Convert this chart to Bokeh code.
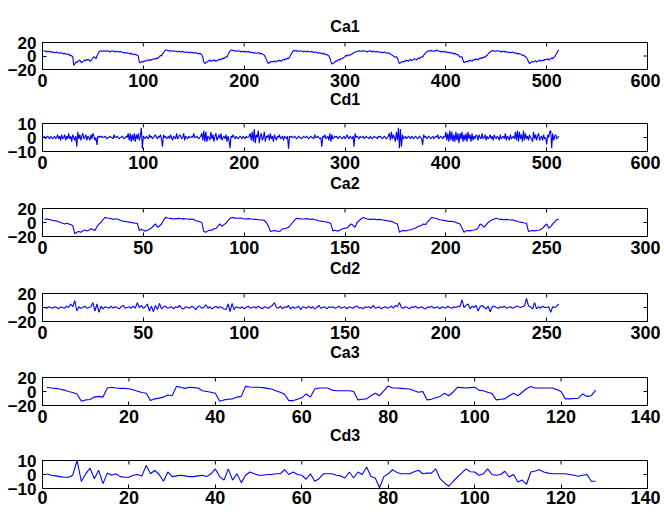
import math
from bokeh.plotting import figure
from bokeh.layouts import column
from bokeh.models import Range1d, FixedTicker
from bokeh.embed import file_html
from bokeh.resources import INLINE

titles = ["Ca1", "Cd1", "Ca2", "Cd2", "Ca3", "Cd3"]

x_ticks_1 = [0, 100, 200, 300, 400, 500, 600]
x_ticks_2 = [0, 50, 100, 150, 200, 250, 300]
x_ticks_3 = [0, 20, 40, 60, 80, 100, 120, 140]
y_ticks_a = [-20, 0, 20]
y_ticks_d = [-10, 0, 10]

ca1 = [7, 8, 7, 6, 7, 7, 6, 7, 6, 5, 6, 5, 5, 6, 5, 4, 5, 4, 5, 4, 3, 4, 3, 3,
       2, 3, 1, 1, 0, -1, -14,
       -12, -9, -10, -8, -7, -6, -9, -10, -8, -7, -6, -7, -5, -6, -5, -8, -7, -5, -3, -1, -2,
       -4, 0, 3, 6, 7,
       8, 7, 7, 8, 7, 7, 8, 7, 7, 6, 7, 8, 7, 7, 6, 7, 7, 6, 6, 7, 6, 6, 5,
       5, 5, 4, 5, 4, 4, 3, 4, 3, 2, 3, 2, 2, 1, 0, -9,
       -10, -9, -8, -9, -7, -8, -7, -6, -6, -7, -5, -6, -5, -4, -5, -4, -3, -4, -2, -1,
       1, 0, 3, 5, 7, 9, 9,
       8, 8, 7, 8, 7, 7, 8, 7, 7, 7, 6, 7, 7, 6, 6, 7, 6, 6, 5, 6, 6, 5, 5, 6, 5, 5, 4, 5, 5, 4, 4, 3, 4, 3, 2,
       -2, -9, -11, -10,
       -9, -8, -7, -6, -8, -7, -6, -7, -6, -8, -7, -6, -5, -6, -4, -5, -3, -4, -2, -1,
       -2, 2, 5, 7, 9, 9,
       8, 8, 7, 8, 7, 7, 8, 7, 6, 7, 7, 6, 7, 6, 6, 7, 6, 5, 6, 5, 5, 4, 5, 4, 4, 5, 4, 3, 4, 3, 2, 1,
       -2, -5, -8,
       -11, -10, -9, -8, -9, -8, -7, -9, -8, -7, -8, -6, -7, -8, -6, -5, -6, -4, -5, -3,
       -4, -2, 1, 4, 6, 8, 8,
       8, 7, 8, 7, 7, 8, 7, 7, 6, 7, 7, 6, 7, 7, 6, 6, 7, 6, 5, 6, 6, 5, 5, 4, 5, 4, 4, 3, 4, 3, 2, 2, 1, 0,
       -3, -8, -12, -11, -10,
       -9, -7, -8, -6, -5, -6, -4, -4, -3, -2, -1,
       1, 0, 1, 2, 1, 2, 3, 4, 5, 6, 6, 7, 7,
       8, 7, 7, 8, 7, 8, 7, 7, 6, 7, 7, 8, 7, 6, 7, 7, 6, 6, 7, 6, 6, 5, 6, 5, 5, 6, 5, 4, 5, 4, 4,
       3, 2, 1, 0, -1, -2, -1, -3,
       -8, -11,
       -10, -9, -8, -9, -7, -8, -6, -7, -8, -6, -5, -7, -6, -5, -4, -5, -6, -4, -3, -4, -2, -1,
       -2, 1, 3, 5, 6, 7,
       8, 7, 8, 8, 7, 7, 8, 7, 9, 8, 7, 7, 6, 7, 6, 6, 7, 6, 5, 6, 5, 5, 4, 5, 4, 3, 4, 3, 2, 2,
       0, -1, -2, -1, -6, -10,
       -9, -8, -9, -7, -8, -6, -7, -8, -6, -5, -6, -4, -5, -6, -4, -3, -4, -2, -3, -1, -2, 0,
       1, 3, 5, 6, 7, 8,
       8, 7, 7, 8, 7, 8, 7, 7, 6, 7, 7, 6, 7, 6, 6, 5, 6, 5, 5, 6, 5, 4, 5, 4, 3, 4, 3, 3, 2, 1, 1, 0, -1, -2,
       -5, -9, -11,
       -10, -9, -8, -9, -8, -7, -9, -8, -7, -6, -8, -7, -6, -7, -5, -6, -5, -4, -6, -5, -4,
       -3, -4, -2, -1, 2, 4, 7, 9]

cd1 = [0, 1, -1, 0, 1, 0, -1, 1, 0, -1, 0, 1, -1, 0, 2, -1,
       1, -2, 2, -1, 0, 2, -2, 1, -1,
       3, -1, 1, -3, 2, 0, -2, 1,
       -6.5,
       4, -1, 2, -2, 1, 3, -1, 0, 2, -2, 1, 0, -2, 2, -1, 3,
       1, -2, 0,
       -5.3,
       1, 0, 1, 0, 1, 0, 0, 1, 0, -1, 0, 0, 1, 0, 0, -1, 2, 0, 0, 1, 0, -1, 0, 0, 1, 0, -1, 0, 1, 0,
       3, -2, 3, -3, 2, -2, 3, -3, 2, -1, 3, -2, 1, 7,
       -8,
       1, 0, -1, 1, 0, -1, 2, 0, 1, -1, 0, 1, 2, 0, -1, 1, 0, 2, -1,
       -6.5,
       2, 0, 1, -1, 0, 1, -1, 2, 0, -2, 1, 0, -1, 3, -1, 0, 2, 1, -1, 0, 3, -2, 1, 0, -1, 1, 0,
       0, 1, 0, 3, 0, 0, 1, 0, -1, 0, 1,
       3, -2, 5, -3, 4, -3, 1, 0, -2, 4, -1, 2, -3, 1, 3, -2, 0, 2, -1, 3, -2, 0, 1, -1, 2, -3, 1, -2, -7.6, 1, 0, 2,
       0, -1, 1, 0, -1, 0, 1, 0, -1, 1, 0, -1, 1, 0, 0, 1,
       3, -2, 4, -3, 6, -4, 2, 0, 5, -4, 1, 3, -2, 0, 4, -3, 1, 0, 2,
       -2, 3, -1, 1, -3, 2, 0, -2, 1, 0, 2, -1, 0, 1, -2, 1, 0, -1, 1,
       -8,
       1, 0, 1, 0, 0, 1, 0, -1, 0, 1, 0, 0, -1, 0, 1, 0, 0, 1, 0, -1, 0, 1, 0, 0, -1, 2, 0, 0, 1, 0, -1, 0,
       -6.5,
       1, 0, 2, -1, 0, 1, -2, 3, -3, 2, -1, 0, 1, 0, 1, -1, 0, 1, 0, -1,
       0, 1, -1, 0, 2, 0, -1, 1, 0, -1, 1,
       -6.5,
       3, 0, 1, 0, -1, 1, 0, 0, 1, -1, 0, 1, 0, 0, -1, 1, 0, -1, 0, 1, 0, 0, -1, 1, 0, 1, 0, -1, 0, 1, 0, -1, 0, 1,
       3, -2, 4, -1, 2, 0, -3, 4, -2, 7, -7.6, 6, -6.5, 2, -1,
       0, 1, -1, 0, 1, 0, -1, 1, 0, -1, 0, 1, 0, -1, 0, 1, 0, -1,
       -5.3,
       2, 0, 1, -1, 0, 1, 0, -1, 0, 1, -1, 0, 1, 0, 2, -1, 0, 1, 0, -1, 1, 0,
       4, -2, 3, -3, 5, -2, 4, -3, 2, -3, 4, -2, 3, -4, 3, -1, 4, -3, 2, -2, 3, -3, 4, -1, 2, -3, 3, -2, 1, -1, 2,
       1, -2, 2, 0, -1, 3, -1, 0, 2, -2, 1, -1, 0, 2, -1, 1, -2, 2, 0, -1, 1, 0, -2, 2, -1, 0, 1, -1, 3, -2,
       1, 0, -2, 2, -1, 0, 1, -1,
       4, -2, 5, -3, 4, -1, 2, -3, 5, -2, 3, -1, 1, -2, 2, 0, -1,
       -3, 4, -1, 2, -2, 1, 3, -2, 0, 1, -2, 2, -1, 0, -5, 2, 0, 4, 5, -7.6, 3, -2, 1, 2, -1, 0, 1]

ca2 = [4.5, 5, 4.5, 4, 3, 2.6, 2, 1,
       0, -1, -2, -1, -2, -3,
       -4.5, -16, -14, -13, -14, -12, -10.6, -12, -11, -9,
       -10, -11.5, -6, -2, 0, 4, 7.3, 6.5, 6, 5.5,
       4.5, 5, 5, 4, 2.6, 2, 1.5, 1, 0.5, 0,
       -0.5, -1, -1, -11.5, -9.6, -11, -12.5, -11, -9.6, -8,
       -5, -2, -6.8, -5, -2, 3, 7.3, 6.5, 6,
       5.5, 5, 5.5, 5.5, 6, 5, 5.5, 5, 5, 4.5, 5, 4.5,
       2.6, 2, 1, 0, -13, -14, -12, -10.6, -11, -9, -9, -5, -2, -5.4, -3, -1, 3, 6, 7.3, 6.3,
       6.3, 6, 6.3, 6,
       5, 5, 5.5, 5, 5, 4.5, 4.5, 4, 3.5,
       3.5, 3, 0, -5, -13, -12, -11.5, -12, -13, -12, -9, -9, -8, -6.8, -4, 0, 3.5, 6,
       5.5, 5, 5, 5, 5.5, 5, 4.5, 5, 4, 3.5, 2.6, 2, 1.6, 1,
       0.5, 0, -2,
       -12, -11, -12, -12, -10, -9, -8, -7.8, -5, -2, -4, -6.8, 0, 2.6, 5, 7.3, 6,
       5, 4.5, 4.5, 5, 4.5, 4, 4.5, 4, 3.5, 3, 2.6, 2,
       1.6, 0.5, -1, -2, -14, -12, -11.5, -12, -11, -10.6,
       -10, -9, -8, -6, -5, -4, -2, -3, 1, 4,
       7.3, 6.5, 6, 5, 4, 3.5, 3, 2.5, 2, 1.6,
       1.6, 1, 0, -1, -2, -8, -14, -12, -11.5, -12,
       -11, -10.6, -10, -8, -2, -4, -6.8, -3, 0, 2,
       4, 5, 6,
       5, 4.5, 4.5, 4, 4.5, 4, 3.5, 4, 3, 2, 1,
       0.5, 0, -0.7, -1, -13, -12, -11.5, -12, -11.5, -11, -10, -8, -5, -2, -8, -6, -2, 1, 4, 5]

cd2 = [0, -1, 1, 0, -1, 1, 0, -2, 1, 0, -1, 2, 0,
       5, 1, 10, -5,
       1, -1, 0, 2, -1, 0, 1,
       7, -5, 5, -7, 2, -2, 1,
       0, -1, 2, -1, 1, 0, -2, 1, 3, -1, 0, 1, -1, 2,
       -1, 7, 0, 3, -1, 1,
       5, -5, 2, -6, 3, -3, 6, -2, 1,
       2, -1, 0, 1, -2, 1, 0, 3, -1, -2, 1, 0, -1, 2, 0, -3, 1, 2, -1, 0, 4, -1, 1, -2, 0, 2, -1, 1, 0, -2,
       -3, 5, -6, 6, -3, 1,
       0, -1, 1, -2, 0, 2, -1, 0, 1, -1, 2, 0, -2, 1, 0, -1, 1,
       3, 7, 0,
       -1, 2, -2, 1, 0, 3, -2, 1, -1, 0, 2, -3, 1, 0, -1, 2, -1, 1, -2, 0, 3, -1, 0, 1, -2, 1, 0,
       1, -1, 0, 2, -1, 0, 1, -2, 1, 0, -1, 1, 2, -1, 0, -2, 1, 0, 1, -1, 3, -1, 0, 1, -2, 0, 1, -1, 0, 2, -1, 3,
       1, 7, 0,
       -1, 1, 0, -2, 1, 0, 2, -1, 0, 1, -1, -2, 1, 0, 2, -1, 0, 1, -2, 1, 0, -1, 2, 0, -1, 1, 0, 2,
       1, 11, 0, 3, 5, -2, 2, 0, 3, -5, 1, 3, 0, -2, 2, -6, 1, 2,
       0, -1, 1, 0, 2, -1, 0, 1, -1, 0, 2, 1, 0, 1, 2,
       13, 2, 1, -2, 7, -2, 1, -1, 2, 0, 0, 1, -7, 1, 0, 2, 5]

ca3 = [6, 5, 4.5, 3.5, 2, 0, -1.5, -3.5, -14, -12,
       -11.5, -8, -7, -8, 5, 6, 5, 4.5, 4.5, 4,
       2.5, 0.5, -1.5, -2.6, -13, -10.5, -9.5, -8, -5, -6,
       7.3, 6, 4.5, 6, 5.5, 5, 1, 0, -1, -2.6,
       -14, -12, -11, -10.5, -8, -7, 7.3, 6.5, 6, 6,
       5.5, 4.5, 3.5, 1, -1, -4, -13, -13, -11, -9,
       -3.5, -8, 3.5, 5, 5, 5, 2, 1, 1, 1,
       1, 0, -12, -11, -10.5, -6, -2.6, -6, 1, 8,
       5, 5, 4.5, 4, 3.5, 1, -1, 0, -12, -11,
       -9, -7, -2.6, -6, -1, 6, 5.5, 5, 5.5, 6,
       2, 1, -1, -3, -12, -11, -10.5, -6, -2.6, -6,
       -1, 4, 7, 5, 5, 5, 5, 5, 3, 0,
       -10.5, -10.5, -10, -9.6, -3.5, -7, -6, 2]

cd3 = [0.5, -0.5, -1, -1.5, -2, -2, -0.5, 10, -5, 0.5,
       4.5, -3, 3, -6.5, 1, -0.5, 0.5, -1.5, -2, -2,
       -0.5, 0, -1, 6.5, 0.5, 3, 0, -4.8, 1.8, -1.5,
       -1, -0.5, -1, -1.5, -1.5, -1, -0.5, -1.5, 0.5, 4,
       -1.5, -4, 4, -4, 0.5, -5.8, -0.5, 1.8, 0.5, -0.5,
       -0.5, 0, 0, 0.5, 0.5, 3.4, 0, 1.8, 0, -0.5,
       -3.4, 0.5, -4.8, -3, 0.5, 0.5, 0.5, -0.5, -1, -2.5,
       1.8, -2.5, 1.8, 0, 5.3, -1.5, -2.5, -9.5, -1.5, 0.5,
       3.4, 1.5, 0.5, 0.5, 0.5, 2, 3, 0.5, 1, 1,
       4, -3, -6, -8.4, -5, -1.8, 1, 4, 2, 1.8,
       -0.5, 0.5, 4, 0, -0.5, 0, 2.3, -1.8, 0, -5.3,
       -4, -7, 1.8, 2.5, 3.4, 1.8, 1, 0.5, 0.5, 0.5,
       0.5, 0, -0.5, -1.2, -0.5, 0, -4.8, -4.8]

series = [ca1, cd1, ca2, cd2, ca3, cd3]
x_max = [600, 600, 300, 300, 140, 140]
x_ticks = [x_ticks_1, x_ticks_1, x_ticks_2, x_ticks_2, x_ticks_3, x_ticks_3]
y_lim = [20, 10, 20, 20, 20, 10]
y_ticks = [y_ticks_a, y_ticks_d, y_ticks_a, y_ticks_a, y_ticks_a, y_ticks_d]

FONT = "Liberation Sans"
# layout (pixels): each panel's border sizes around its axes box.
# The heading of the next panel is set in the band under the tick labels.
frame_h = [27, 28, 28, 28, 28, 28]
tops = [42, 10, 10, 10, 10, 10]
bottoms = [44, 47, 47, 46, 45, 24]
x_standoff = [4, 4, 4, 4, 4, 2]
head_standoff = [1, 3, 3, 2, 1, 0]


def style_axis(ax, ticks, standoff, size):
    ax.ticker = FixedTicker(ticks=ticks)
    ax.major_tick_in = 4
    ax.major_tick_out = 0
    ax.minor_tick_line_color = None
    ax.axis_line_color = "black"
    ax.major_tick_line_color = "black"
    ax.major_label_text_font = FONT
    ax.major_label_text_font_style = "bold"
    ax.major_label_text_color = "black"
    ax.major_label_text_font_size = size
    ax.major_label_standoff = standoff


figs = []
for i in range(6):
    vals = series[i]
    xs = list(range(1, len(vals) + 1))
    h = tops[i] + frame_h[i] + bottoms[i]
    p = figure(width=660, height=h, title=(titles[0] if i == 0 else None),
               x_range=Range1d(0, x_max[i]), y_range=Range1d(-y_lim[i], y_lim[i]),
               output_backend="svg", toolbar_location=None,
               min_border_left=42, min_border_right=13,
               min_border_top=tops[i], min_border_bottom=bottoms[i])
    p.line(xs, vals, line_color="#0000ff", line_width=1.1)
    # tick marks on the top and right edges, as in the original figure
    xt = x_ticks[i]
    yt = y_ticks[i]
    p.ray(x=xt, y=[y_lim[i]] * len(xt), length=4, length_units="screen",
          angle=-math.pi / 2, line_color="black", line_width=1)
    p.ray(x=[x_max[i]] * len(yt), y=yt, length=4, length_units="screen",
          angle=math.pi, line_color="black", line_width=1)
    p.grid.visible = False
    p.outline_line_color = "black"
    p.outline_line_alpha = 1
    p.background_fill_color = "white"
    p.border_fill_color = "white"
    if p.title is not None:
        p.title.align = "center"
        p.title.text_font = FONT
        p.title.text_font_size = "16px"
        p.title.text_font_style = "bold"
        p.title.text_color = "black"
        p.title.standoff = 15
    style_axis(p.xaxis[0], xt, x_standoff[i], "18px")
    style_axis(p.yaxis[0], yt, 6, "17px")
    if i < 5:
        xa = p.xaxis[0]
        xa.axis_label = titles[i + 1]
        xa.axis_label_standoff = head_standoff[i]
        xa.axis_label_text_font = FONT
        xa.axis_label_text_font_size = "16px"
        xa.axis_label_text_font_style = "bold"
        xa.axis_label_text_color = "black"
    figs.append(p)

layout = column(*figs, spacing=0)
open("out.html", "w").write(file_html(layout, INLINE))
